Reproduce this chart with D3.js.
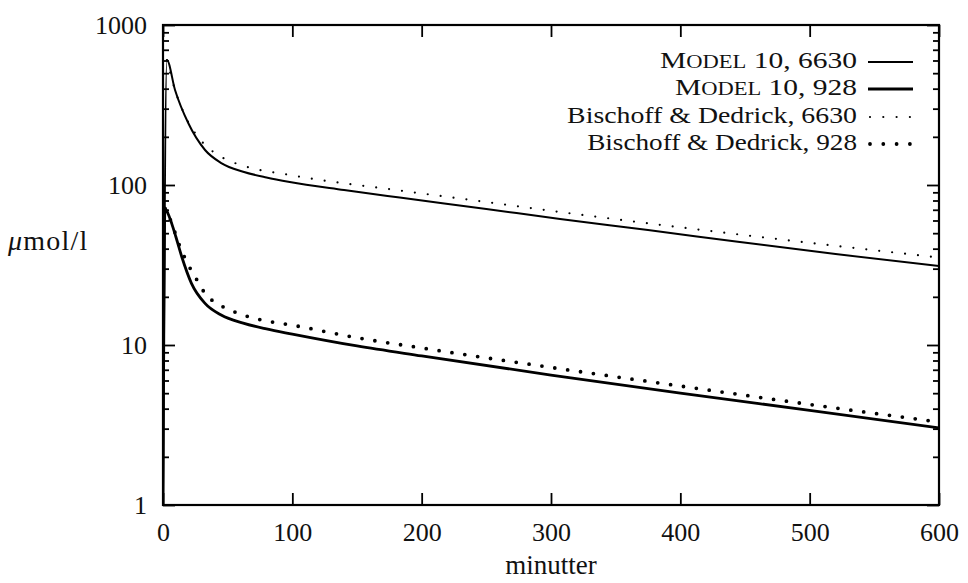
<!DOCTYPE html>
<html>
<head>
<meta charset="utf-8">
<script src="https://cdn.jsdelivr.net/npm/d3@7/dist/d3.min.js"></script>
<style>
  html, body { margin: 0; padding: 0; background: #fff; }
  svg { display: block; }
  svg text { font-family: "Liberation Serif", "DejaVu Serif", serif !important; fill: #111; }
</style>
</head>
<body>
<svg id="chart" width="968" height="583"></svg>
<script>
// ---- data ----
const model6630T = [0, 3, 9.3, 19.6, 32.5, 45.4, 62, 80, 98, 140, 183, 250, 307, 375, 446, 520, 600];
const model6630V = [1, 604, 392.6, 243, 165.5, 136.7, 121.1, 111.4, 104.4, 93.1, 83.5, 70.8, 61.3, 52.3, 44.0, 37.0, 31.2];

const model928T = [0, 1.5, 4, 6.7, 10, 14.5, 22, 32.5, 45, 62, 80, 100, 150, 200, 300, 400, 500, 600];
const model928V = [1, 71.5, 65.9, 57.6, 47.3, 35.6, 24.3, 18.2, 15.4, 13.7, 12.6, 11.7, 9.86, 8.54, 6.49, 5.01, 3.90, 3.03];

const bd6630T = [3, 9.3, 18.3, 26, 39, 48, 60, 100, 183, 250, 307, 446, 600];
const bd6630V = [604, 393, 258.5, 205, 160.8, 145.3, 133.4, 114.8, 92.4, 78.3, 67.8, 49.0, 35.2];

const bd928T = [1.5, 6.7, 12, 18.3, 27, 32.5, 40, 49, 58, 75, 100, 150, 200, 300, 400, 500, 600];
const bd928V = [71.5, 57.9, 43.4, 33.2, 24.9, 21.0, 18.5, 16.96, 15.8, 14.4, 13.3, 11.1, 9.58, 7.24, 5.54, 4.25, 3.30];

const xTicks = [0, 100, 200, 300, 400, 500, 600];
const yMajor = [1, 10, 100, 1000];
const yMinor = [2,3,4,5,6,7,8,9,20,30,40,50,60,70,80,90,200,300,400,500,600,700,800,900];

const legendLabels = [
  {caps: "Model", rest: " 10, 6630"},
  {caps: "Model", rest: " 10, 928"},
  {caps: null, rest: "Bischoff & Dedrick, 6630"},
  {caps: null, rest: "Bischoff & Dedrick, 928"}
];
const xLabel = "minutter";
const yLabelMu = "\u03BC";
const yLabelRest = "mol/l";

// ---- layout ----
const FONT = "Liberation Serif";
const L = 163, R = 939, T = 25, B = 505;
const svg = d3.select("#chart");
const x = d3.scaleLinear().domain([0, 600]).range([L, R]);
const y = d3.scaleLog().domain([1, 1000]).range([B, T]);

const zip = (ts, vs) => ts.map((t, i) => [t, vs[i]]);
const series = [
  {data: zip(model6630T, model6630V), width: 2.0, dash: null},
  {data: zip(model928T, model928V), width: 2.8, dash: null},
  {data: zip(bd6630T, bd6630V), width: 2.2, dash: "0,13"},
  {data: zip(bd928T, bd928V), width: 3.8, dash: "0,13"}
];

const line = d3.line().x(d => x(d[0])).y(d => y(d[1])).curve(d3.curveMonotoneX);

svg.append("clipPath").attr("id", "clip").append("rect")
  .attr("x", L).attr("y", T).attr("width", R - L).attr("height", B - T);

const curves = svg.append("g").attr("clip-path", "url(#clip)");
series.forEach(s => {
  curves.append("path")
    .attr("d", line(s.data))
    .attr("fill", "none")
    .attr("stroke", "#000")
    .attr("stroke-width", s.width)
    .attr("stroke-linecap", s.dash ? "round" : "butt")
    .attr("stroke-linejoin", "round")
    .attr("stroke-dasharray", s.dash);
});

// ---- axes ----
function styleAxis(g) {
  g.attr("font-family", FONT);
  g.select(".domain").remove();
  g.selectAll(".tick line").attr("stroke", "#000").attr("stroke-width", 1.8);
  g.selectAll("text").attr("font-size", 26).style("font-family", FONT).attr("fill", "#111");
}
svg.append("g").attr("transform", `translate(0,${B})`)
  .call(d3.axisBottom(x).tickValues(xTicks).tickSizeInner(-12).tickSizeOuter(0).tickPadding(18).tickFormat(d3.format("d")))
  .call(styleAxis);
svg.append("g").attr("transform", `translate(0,${T})`)
  .call(d3.axisTop(x).tickValues(xTicks).tickSizeInner(-12).tickSizeOuter(0).tickFormat(""))
  .call(styleAxis);
svg.append("g").attr("transform", `translate(${L},0)`)
  .call(d3.axisLeft(y).tickValues(yMajor).tickSizeInner(-12).tickSizeOuter(0).tickPadding(16).tickFormat(d3.format("d")))
  .call(styleAxis);
svg.append("g").attr("transform", `translate(${L},0)`)
  .call(d3.axisLeft(y).tickValues(yMinor).tickSizeInner(-6).tickSizeOuter(0).tickFormat(""))
  .call(styleAxis);
svg.append("g").attr("transform", `translate(${R},0)`)
  .call(d3.axisRight(y).tickValues(yMajor).tickSizeInner(-12).tickSizeOuter(0).tickFormat(""))
  .call(styleAxis);
svg.append("g").attr("transform", `translate(${R},0)`)
  .call(d3.axisRight(y).tickValues(yMinor).tickSizeInner(-6).tickSizeOuter(0).tickFormat(""))
  .call(styleAxis);

svg.append("rect").attr("x", L).attr("y", T).attr("width", R - L).attr("height", B - T)
  .attr("fill", "none").attr("stroke", "#000").attr("stroke-width", 2.2);

// axis labels
svg.append("text").attr("x", (L + R) / 2).attr("y", 574).attr("text-anchor", "middle")
  .attr("font-size", 27).style("font-family", FONT).text(xLabel);
const yl = svg.append("text").attr("x", 8).attr("y", 250).attr("text-anchor", "start")
  .attr("font-size", 28).attr("letter-spacing", 1.2).style("font-family", FONT);
yl.append("tspan").attr("font-style", "italic").text(yLabelMu);
yl.append("tspan").text(yLabelRest);

// legend (Computer-Modern-like: shorter glyphs, wider set -> horizontal stretch)
const legY = [68, 95, 123, 150];
const legW = [197, 182, 290, 270];
const legG = svg.append("g");
legendLabels.forEach((lab, i) => {
  const g = legG.append("g");
  const t = g.append("text").attr("x", 0).attr("y", 0).attr("text-anchor", "end")
    .attr("font-size", 24).style("font-family", FONT);
  if (lab.caps) {
    t.append("tspan").text(lab.caps[0]);
    t.append("tspan").attr("font-size", 18.3).text(lab.caps.slice(1).toUpperCase());
  }
  t.append("tspan").text(lab.rest);
  const w = t.node().getComputedTextLength() || legW[i];
  const sx = legW[i] / w;
  g.attr("transform", `translate(857,${legY[i]}) scale(${sx},1)`);
  const s = series[i];
  legG.append("line")
    .attr("x1", s.dash ? 870 : 868).attr("x2", 913).attr("y1", legY[i] - 6).attr("y2", legY[i] - 6)
    .attr("stroke", "#000").attr("stroke-width", s.width)
    .attr("stroke-linecap", s.dash ? "round" : "butt")
    .attr("stroke-dasharray", s.dash ? "0,13.3" : null);
});
</script>
</body>
</html>
